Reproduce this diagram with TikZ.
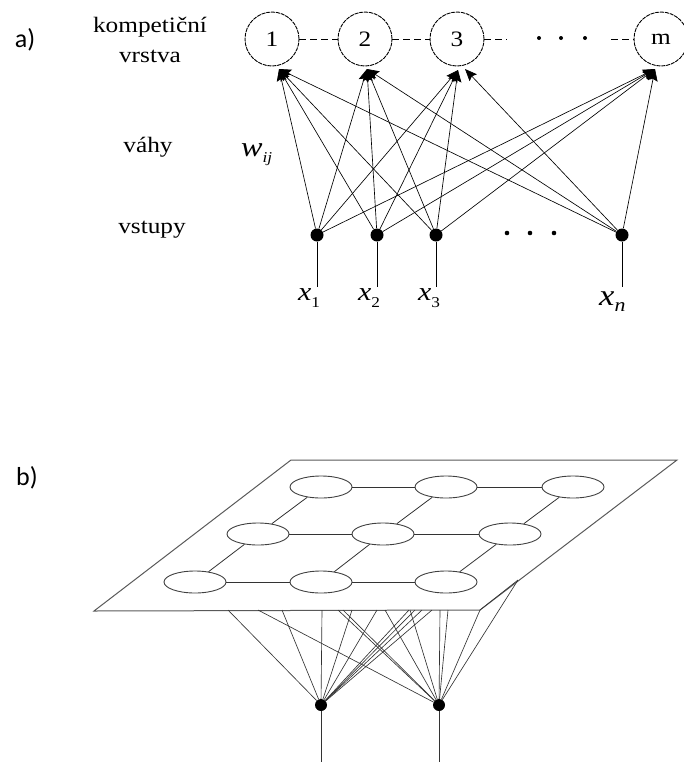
\documentclass[tikz,border=0pt]{standalone}
\usepackage{fontspec}
\setmainfont{Liberation Serif}
\newfontfamily\tnr[FakeStretch=1.15]{Liberation Serif}
\newfontfamily\calib{Carlito}
\usetikzlibrary{arrows.meta,calc,shapes.geometric}
\begin{document}
\begin{tikzpicture}[x=1pt,y=-1pt,
  neuron/.style={circle,draw,line width=0.9pt,dash pattern=on 4pt off 0.9pt,minimum size=54pt,inner sep=0pt,
    font=\tnr\fontsize{22}{22}\selectfont},
  inp/.style={circle,fill,inner sep=0pt,minimum size=13pt},
  arr/.style={-{Stealth[length=12pt,width=10pt,inset=2pt]},line width=0.65pt},
  lbl/.style={font=\tnr\fontsize{22}{30}\selectfont,align=center,inner sep=0pt},
  tag/.style={font=\calib\fontsize{26}{26}\selectfont,inner sep=0pt},
  lateral/.style={line width=0.8pt,dash pattern=on 7pt off 4pt},
  ell/.style={ellipse,draw=black!75,line width=0.9pt,minimum width=62pt,minimum height=22pt,inner sep=0pt},
  grid/.style={draw=black!80,line width=0.8pt},
  plate/.style={draw=black!65,line width=1pt},
  bl/.style={draw=black!80,line width=0.65pt},
  stem/.style={line width=0.8pt}]
\useasboundingbox (0,0) rectangle (683,763);

% ---------------- part a ----------------
\node[tag] (ta) at (25,40) {a)};
\node[lbl,anchor=base] (lk) at (150,32) {kompetiční};
\node[lbl,anchor=base] (lv) at (150,62) {vrstva};
\node[lbl,anchor=base] (lw) at (148,152) {váhy};
\node[lbl,anchor=base] (ls) at (152,233) {vstupy};
\node[inner sep=0pt,anchor=base west] (wij) at (241,156)
  {\tnr\itshape\fontsize{28}{28}\selectfont w\raisebox{-6pt}{\fontsize{15}{15}\selectfont ij}};

\node[neuron] (c1) at (272,39) {1};
\node[neuron] (c2) at (365,39) {2};
\node[neuron] (c3) at (457,39) {3};
\node[neuron] (cm) at (661,39) {m};

\coordinate (d3) at (507,39);
\coordinate (dm) at (611,39);
\draw[lateral] (c1) -- (c2);
\draw[lateral] (c2) -- (c3);
\draw[lateral] (c3) -- (d3);
\draw[lateral] (dm) -- (cm);
\fill (539,38) circle (2pt) (561,38) circle (2pt) (585,38) circle (2pt);

\node[inp] (i1) at (317,235) {};
\node[inp] (i2) at (377,235) {};
\node[inp] (i3) at (436,235) {};
\node[inp] (in) at (622,235) {};
\fill (507,233) circle (2.3pt) (530,233) circle (2.3pt) (554,233) circle (2.3pt);

\coordinate (b1) at (317,287);
\coordinate (b2) at (377,287);
\coordinate (b3) at (436,287);
\coordinate (bn) at (622,287);
\draw[stem] (i1) -- (b1);
\draw[stem] (i2) -- (b2);
\draw[stem] (i3) -- (b3);
\draw[stem] (in) -- (bn);

\node[anchor=base west,inner sep=0pt] (x1) at (298,300)
  {\tnr\itshape\fontsize{26}{26}\selectfont x\raisebox{-7pt}{\upshape\fontsize{15}{15}\selectfont 1}};
\node[anchor=base west,inner sep=0pt] (x2) at (358,300)
  {\tnr\itshape\fontsize{26}{26}\selectfont x\raisebox{-7pt}{\upshape\fontsize{15}{15}\selectfont 2}};
\node[anchor=base west,inner sep=0pt] (x3) at (418,300)
  {\tnr\itshape\fontsize{26}{26}\selectfont x\raisebox{-7pt}{\upshape\fontsize{15}{15}\selectfont 3}};
\node[anchor=base west,inner sep=0pt] (xn) at (599,305)
  {\tnr\itshape\fontsize{30}{30}\selectfont x\raisebox{-6pt}{\fontsize{19}{19}\selectfont n}};

\coordinate (t1) at (279,69);
\coordinate (t2) at (367,69);
\coordinate (t3) at (458,70);
\coordinate (t3n) at (465,69);
\coordinate (tm) at (655,69);

\foreach \s in {i1,i2,i3,in}{
  \draw[arr] (\s) -- (t1);
  \draw[arr] (\s) -- (t2);
  \draw[arr] (\s) -- (tm);
}
\draw[arr] (i1) -- (t3);
\draw[arr] (i2) -- (t3);
\draw[arr] (i3) -- (t3);
\draw[arr] (in) -- (t3n);

% ---------------- part b ----------------
\node[tag] (tb) at (27,478) {b)};

\coordinate (p1) at (291,460);
\coordinate (p2) at (677,460);
\coordinate (p3) at (480,610);
\coordinate (p4) at (94,611);
\draw[plate] (p1) -- (p2) -- (p3) -- (p4) -- cycle;

\node[ell] (e11) at (321,487) {};
\node[ell] (e12) at (446,487) {};
\node[ell] (e13) at (573,487) {};
\node[ell] (e21) at (258,534) {};
\node[ell] (e22) at (383,534) {};
\node[ell] (e23) at (510,534) {};
\node[ell] (e31) at (195,582) {};
\node[ell] (e32) at (321,582) {};
\node[ell] (e33) at (446,582) {};

\draw[grid] (e11) -- (e12);
\draw[grid] (e12) -- (e13);
\draw[grid] (e21) -- (e22);
\draw[grid] (e22) -- (e23);
\draw[grid] (e31) -- (e32);
\draw[grid] (e32) -- (e33);
\draw[grid] (e11) -- (e21);
\draw[grid] (e21) -- (e31);
\draw[grid] (e12) -- (e22);
\draw[grid] (e22) -- (e32);
\draw[grid] (e13) -- (e23);
\draw[grid] (e23) -- (e33);

\node[inp,minimum size=12pt] (n1) at (321,705) {};
\node[inp,minimum size=12pt] (n2) at (439,705) {};

\foreach \x in {228,282,322,352,377,409,415,422,432}{
  \coordinate (u\x) at (\x,610);
  \draw[bl] (u\x) -- (n1);
}
\foreach \x in {258,338,343,385,410,440,448}{
  \coordinate (v\x) at (\x,610);
  \draw[bl] (v\x) -- (n2);
}
\coordinate (pr) at (518,580);
\draw[bl] (p3) -- (n2);
\draw[bl] (pr) -- (n2);
\draw[bl] (pr) -- (p3);

\coordinate (n1b) at (321,762);
\coordinate (n2b) at (439,762);
\draw[bl,line width=0.8pt] (n1) -- (n1b);
\draw[bl,line width=0.8pt] (n2) -- (n2b);
\end{tikzpicture}
\end{document}
